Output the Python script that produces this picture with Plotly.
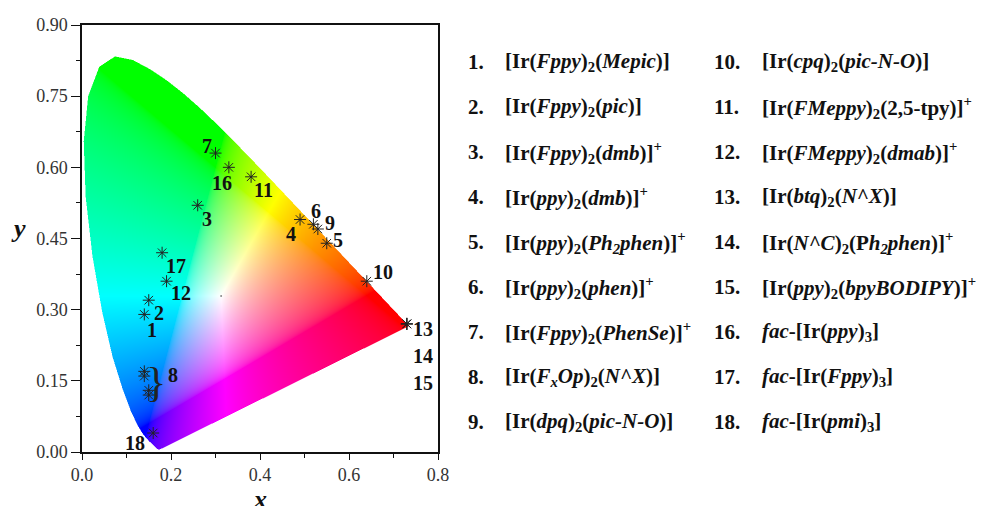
import numpy as np
import plotly.graph_objects as go

# ---------------- data ----------------
# CIE 1931 2-degree spectral locus chromaticity coordinates (380-700 nm)
locus_x = [0.1741, 0.1740, 0.1738, 0.1736, 0.1733, 0.1730, 0.1726, 0.1721, 0.1714, 0.1703,
           0.1689, 0.1669, 0.1644, 0.1611, 0.1566, 0.1510, 0.1440, 0.1355, 0.1241, 0.1096,
           0.0913, 0.0687, 0.0454, 0.0235, 0.0082, 0.0039, 0.0139, 0.0389, 0.0743, 0.1142,
           0.1547, 0.1929, 0.2296, 0.2658, 0.3016, 0.3373, 0.3731, 0.4087, 0.4441, 0.4788,
           0.5125, 0.5448, 0.5752, 0.6029, 0.6270, 0.6482, 0.6658, 0.6801, 0.6915, 0.7006,
           0.7079, 0.7140, 0.7190, 0.7230, 0.7260, 0.7283, 0.7300, 0.7311, 0.7320, 0.7334,
           0.7344, 0.7347]
locus_y = [0.0050, 0.0050, 0.0049, 0.0049, 0.0048, 0.0048, 0.0048, 0.0048, 0.0051, 0.0058,
           0.0069, 0.0086, 0.0109, 0.0138, 0.0177, 0.0227, 0.0297, 0.0399, 0.0578, 0.0868,
           0.1327, 0.2007, 0.2950, 0.4127, 0.5384, 0.6548, 0.7502, 0.8120, 0.8338, 0.8262,
           0.8059, 0.7816, 0.7543, 0.7243, 0.6923, 0.6589, 0.6245, 0.5896, 0.5547, 0.5202,
           0.4866, 0.4544, 0.4242, 0.3965, 0.3725, 0.3514, 0.3340, 0.3197, 0.3083, 0.2993,
           0.2920, 0.2859, 0.2809, 0.2770, 0.2740, 0.2717, 0.2700, 0.2689, 0.2680, 0.2666,
           0.2656, 0.2653]

white_x = [0.3127]
white_y = [0.3290]

# measured CIE (x, y) of the complexes (complex 8 has four, 13/14/15 coincide)
complex_ids = [1, 2, 3, 4, 5, 6, 7, 8, 8, 8, 8, 9, 10, 11, 12, 13, 14, 15, 16, 17, 18]
cie_x = [0.14, 0.15, 0.26, 0.49, 0.55, 0.52, 0.30, 0.14, 0.14, 0.15, 0.15,
         0.53, 0.64, 0.38, 0.19, 0.73, 0.73, 0.73, 0.33, 0.18, 0.16]
cie_y = [0.29, 0.32, 0.52, 0.49, 0.44, 0.48, 0.63, 0.17, 0.16, 0.13, 0.12,
         0.47, 0.36, 0.58, 0.36, 0.27, 0.27, 0.27, 0.60, 0.42, 0.04]

formulas = [
    "[Ir(<i>Fppy</i>)<sub>2</sub>(<i>Mepic</i>)]",
    "[Ir(<i>Fppy</i>)<sub>2</sub>(<i>pic</i>)]",
    "[Ir(<i>Fppy</i>)<sub>2</sub>(<i>dmb</i>)]<sup>+</sup>",
    "[Ir(<i>ppy</i>)<sub>2</sub>(<i>dmb</i>)]<sup>+</sup>",
    "[Ir(<i>ppy</i>)<sub>2</sub>(<i>Ph<sub>2</sub>phen</i>)]<sup>+</sup>",
    "[Ir(<i>ppy</i>)<sub>2</sub>(<i>phen</i>)]<sup>+</sup>",
    "[Ir(<i>Fppy</i>)<sub>2</sub>(<i>PhenSe</i>)]<sup>+</sup>",
    "[Ir(<i>F<sub>x</sub>Op</i>)<sub>2</sub>(<i>N^X</i>)]",
    "[Ir(<i>dpq</i>)<sub>2</sub>(<i>pic-N-O</i>)]",
    "[Ir(<i>cpq</i>)<sub>2</sub>(<i>pic-N-O</i>)]",
    "[Ir(<i>FMeppy</i>)<sub>2</sub>(2,5-tpy)]<sup>+</sup>",
    "[Ir(<i>FMeppy</i>)<sub>2</sub>(<i>dmab</i>)]<sup>+</sup>",
    "[Ir(<i>btq</i>)<sub>2</sub>(<i>N^X</i>)]",
    "[Ir(<i>N^C</i>)<sub>2</sub>(P<i>h<sub>2</sub>phen</i>)]<sup>+</sup>",
    "[Ir(<i>ppy</i>)<sub>2</sub>(<i>bpyBODIPY</i>)]<sup>+</sup>",
    "<i>fac</i>-[Ir(<i>ppy</i>)<sub>3</sub>]",
    "<i>fac</i>-[Ir(<i>Fppy</i>)<sub>3</sub>]",
    "<i>fac</i>-[Ir(<i>pmi</i>)<sub>3</sub>]",
]

x_ticks = [0.0, 0.2, 0.4, 0.6, 0.8]
y_ticks = [0.00, 0.15, 0.30, 0.45, 0.60, 0.75, 0.90]

# ---------------- styling / layout constants ----------------
W, H = 984, 506
ML, MR, MT, MB = 82, 546, 25, 54
PW, PH = W - ML - MR, H - MT - MB
XR, YR = [0, 0.8], [0, 0.9]
FONT = "Liberation Serif"

# label offsets in pixels (right, down) relative to the point
label_off = {1: (8, 16), 2: (10, 13), 3: (9, 14), 4: (-9, 14), 5: (11, -3), 6: (3, -13),
             7: (-9, -7), 8: (24, -8), 9: (12, -6), 10: (16, -9), 11: (12, 13), 12: (14, 12),
             13: (16, 5), 14: (16, 32), 15: (16, 59), 16: (-7, 16), 17: (14, 13), 18: (-18, 10)}

# ---------------- chromaticity background ----------------
dx = (XR[1] - XR[0]) / PW
dy = (YR[1] - YR[0]) / PH
xs = XR[0] + dx * (np.arange(PW) + 0.5)
ys = YR[0] + dy * (np.arange(PH) + 0.5)
GX, GY = np.meshgrid(xs, ys)

vx = np.array(locus_x)
vy = np.array(locus_y)


def inside(px, py):
    res = np.zeros(px.shape, bool)
    n = len(vx)
    j = n - 1
    for i in range(n):
        xi, yi, xj, yj = vx[i], vy[i], vx[j], vy[j]
        cond = ((yi > py) != (yj > py)) & (px < (xj - xi) * (py - yi) / (yj - yi + 1e-12) + xi)
        res ^= cond
        j = i
    return res


alpha = np.zeros(GX.shape)
for ox in (-0.25, 0.25):
    for oy in (-0.25, 0.25):
        alpha += inside(GX + ox * dx, GY + oy * dy)
alpha /= 4.0

Yc = np.maximum(GY, 1e-4)
X = GX / Yc
Y = np.ones_like(GX)
Z = (1 - GX - GY) / Yc
M = np.array([[3.2406, -1.5372, -0.4986],
              [-0.9689, 1.8758, 0.0415],
              [0.0557, -0.2040, 1.0570]])
rgb = np.einsum('ij,jkl->ikl', M, np.stack([X, Y, Z]))
rgb = np.clip(rgb, 0, None)
mx = np.max(rgb, axis=0, keepdims=True)
rgb = rgb / np.maximum(mx, 1e-9)
rgb = np.where(rgb <= 0.0031308, 12.92 * rgb, 1.055 * np.power(rgb, 1 / 2.4) - 0.055)
rgb = np.clip(np.round(rgb * 255), 0, 255).astype(int)
img = np.zeros((PH, PW, 4))
img[..., 0] = rgb[0]
img[..., 1] = rgb[1]
img[..., 2] = rgb[2]
img[..., 3] = np.round(alpha, 2)
img[alpha == 0, :3] = 255

fig = go.Figure()
fig.add_trace(go.Image(z=img.tolist(), colormodel="rgba", x0=xs[0], dx=dx, y0=ys[0], dy=dy,
                       hoverinfo="skip"))

fig.add_trace(go.Scatter(x=white_x, y=white_y, mode="markers",
                         marker=dict(size=2, color="#888"), hoverinfo="skip", showlegend=False))

fig.add_trace(go.Scatter(x=cie_x, y=cie_y, mode="markers",
                         marker=dict(symbol="asterisk-open", size=10,
                                     line=dict(width=1, color="#222"), color="#222"),
                         text=[str(c) for c in complex_ids], showlegend=False))

annotations = []
# point labels
for cid in range(1, 19):
    idx = [k for k, c in enumerate(complex_ids) if c == cid]
    px = max(cie_x[k] for k in idx)
    py = sum(cie_y[k] for k in idx) / len(idx)
    ox, oy = label_off[cid]
    annotations.append(dict(x=px, y=py, xref="x", yref="y", text=f"<b>{cid}</b>",
                            showarrow=False, xshift=ox, yshift=-oy,
                            font=dict(family=FONT, size=20, color="#111")))
    if cid == 8:
        annotations.append(dict(x=px, y=py, xref="x", yref="y", text="}",
                                showarrow=False, xshift=7, yshift=1,
                                font=dict(family=FONT, size=42, color="#222")))


def pxx(p):
    return (p - ML) / PW


def pxy(p):
    return (MT + PH - p) / PH


# legend list
for i, f in enumerate(formulas):
    col, row = divmod(i, 9)
    yc = pxy(62 + 45 * row)
    nx = pxx([466, 712][col])
    fx = pxx([503, 760][col])
    annotations.append(dict(x=nx, y=yc, xref="paper", yref="paper", xanchor="left",
                            yanchor="middle", text=f"<b>{i + 1}.</b>", showarrow=False,
                            font=dict(family=FONT, size=21, color="#111")))
    annotations.append(dict(x=fx, y=yc, xref="paper", yref="paper", xanchor="left",
                            yanchor="middle", text=f"<b>{f}</b>", showarrow=False,
                            font=dict(family=FONT, size=21, color="#111")))

# axis titles
annotations.append(dict(x=pxx(18), y=pxy(228), xref="paper", yref="paper", text="<b><i>y</i></b>",
                        xanchor="center", yanchor="middle",
                        showarrow=False, font=dict(family=FONT, size=26, color="#111")))
annotations.append(dict(x=0.4, y=pxy(500), xref="x", yref="paper", text="<b><i>x</i></b>",
                        xanchor="center", yanchor="middle", showarrow=False,
                        font=dict(family=FONT, size=26, color="#111")))

fig.update_layout(
    width=W, height=H,
    margin=dict(l=ML, r=MR, t=MT, b=MB, pad=0),
    paper_bgcolor="white", plot_bgcolor="white",
    showlegend=False,
    annotations=annotations,
    font=dict(family=FONT, size=18, color="#333"),
    xaxis=dict(range=XR, autorange=False, tickvals=x_ticks, tickformat=".1f",
               showgrid=False, zeroline=False, showline=True, linecolor="#111", linewidth=1.5,
               mirror=True, ticks="outside", ticklen=6, tickwidth=1.2, tickcolor="#111",
               minor=dict(dtick=0.1, ticks="outside", ticklen=4, tickcolor="#111", showgrid=False),
               tickfont=dict(family=FONT, size=18, color="#333")),
    yaxis=dict(range=YR, autorange=False, tickvals=y_ticks, tickformat=".2f",
               scaleanchor=False,
               showgrid=False, zeroline=False, showline=True, linecolor="#111", linewidth=1.5,
               mirror=True, ticks="outside", ticklen=9, tickwidth=1.2, tickcolor="#111",
               minor=dict(dtick=0.075, ticks="outside", ticklen=4, tickcolor="#111", showgrid=False),
               tickfont=dict(family=FONT, size=18, color="#333")),
)

fig.write_html("out.html")
